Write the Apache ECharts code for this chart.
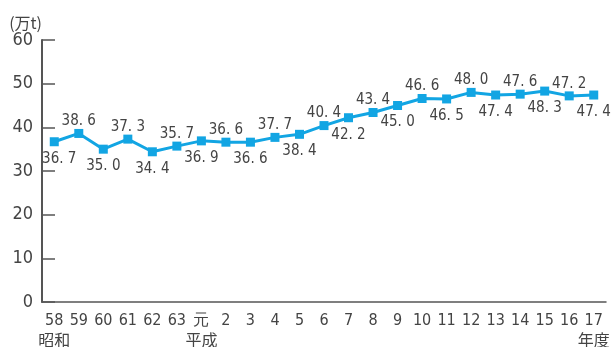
<!DOCTYPE html>
<html>
<head>
<meta charset="utf-8">
<script src="https://cdn.jsdelivr.net/npm/echarts@6/dist/echarts.min.js"></script>
<style>html,body{margin:0;padding:0;background:#fff}#c{width:613px;height:347px}</style>
</head>
<body>
<div id="c"></div>
<script>
var categories = ['58','59','60','61','62','63','元','2','3','4','5','6','7','8','9','10','11','12','13','14','15','16','17'];
var eraLabels = {'58':'昭和','元':'平成','17':'年度'};
var values = [36.7,38.6,35.0,37.3,34.4,35.7,36.9,36.6,36.6,37.7,38.4,40.4,42.2,43.4,45.0,46.6,46.5,48.0,47.4,47.6,48.3,47.2,47.4];
var yTicks = [0,10,20,30,40,50,60];
var unitName = '(万t)';

var NUM = '"Liberation Sans Narrow","DejaVu Sans Condensed",sans-serif';
var CJK = '"Noto Sans CJK JP",sans-serif';
var BLUE = '#12a5e3';

var data = values.map(function(v, i){
  var up = (i % 2 === 1);
  return {
    value: v,
    label: {
      position: up ? 'top' : 'bottom',
      distance: up ? 0 : 5,
      offset: i === 0 ? [5, 0] : [0, 0]
    }
  };
});

var chart = echarts.init(document.getElementById('c'), null, {renderer:'canvas'});
chart.setOption({
  animation: false,
  grid: {left: 42, right: 7, top: 40, bottom: 45, containLabel: false, outerBoundsMode: 'none'},
  xAxis: {
    type: 'category',
    data: categories,
    boundaryGap: true,
    axisLine: {lineStyle: {color: '#555', width: 1.5}},
    axisTick: {inside: true, length: 6, lineStyle: {color: '#555', width: 1}},
    axisLabel: {
      margin: 10,
      interval: 0,
      color: '#444',
      fontFamily: NUM,
      fontSize: 16,
      lineHeight: 18,
      formatter: function(v){ return eraLabels[v] ? v + '\n{era|' + eraLabels[v] + '}' : v; },
      rich: {era: {fontFamily: CJK, fontSize: 16, color: '#444', lineHeight: 19}}
    }
  },
  yAxis: {
    type: 'value',
    min: yTicks[0],
    max: yTicks[yTicks.length - 1],
    interval: 10,
    name: unitName,
    nameLocation: 'end',
    nameGap: 7,
    nameTextStyle: {fontFamily: CJK, fontSize: 16, color: '#444', align: 'right', verticalAlign: 'bottom', padding: [0, 0, 0, 0]},
    splitLine: {show: false},
    axisLine: {show: true, lineStyle: {color: '#555', width: 2}},
    axisTick: {show: true, inside: true, length: 13, lineStyle: {color: '#555', width: 1.5}},
    axisLabel: {margin: 9, color: '#444', fontFamily: NUM, fontSize: 18}
  },
  series: [{
    type: 'line',
    data: data,
    symbol: 'rect',
    symbolSize: 9,
    lineStyle: {color: BLUE, width: 3},
    itemStyle: {color: BLUE},
    label: {
      show: true,
      color: '#444',
      fontFamily: NUM,
      fontSize: 15,
      formatter: function(p){ return p.value.toFixed(1).replace('.', '. '); }
    }
  }]
});
</script>
</body>
</html>
